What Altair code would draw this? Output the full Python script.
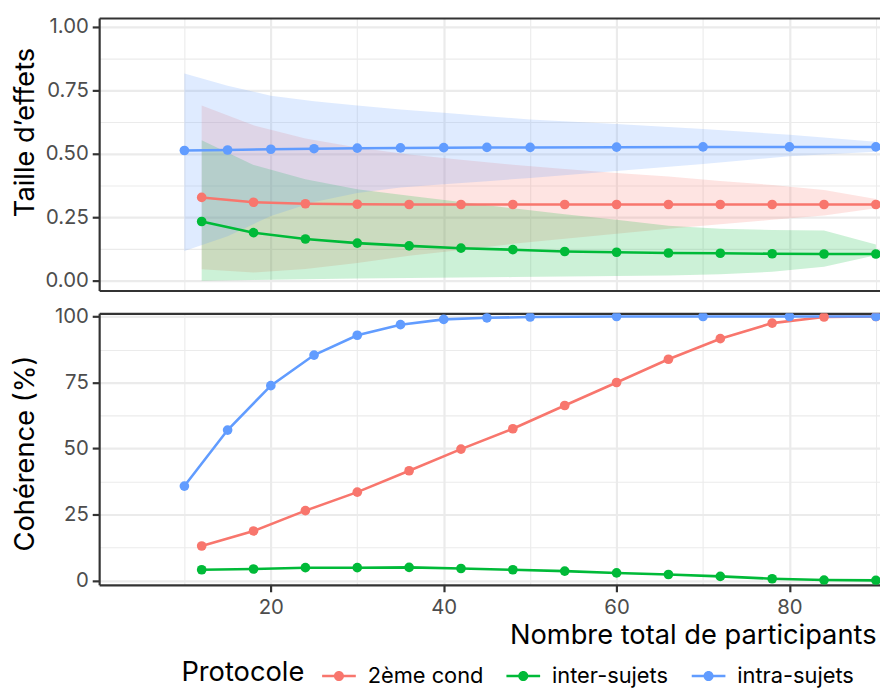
import altair as alt
import pandas as pd

PROTOCOLS = ["2ème cond", "inter-sujets", "intra-sujets"]
COLORS = ["#F8766D", "#00BA38", "#619CFF"]

N_INTRA = [10, 15, 20, 25, 30, 35, 40, 45, 50, 60, 70, 80, 90]
N_OTHER = [12, 18, 24, 30, 36, 42, 48, 54, 60, 66, 72, 78, 84, 90]

ES_COND2 = [0.328, 0.309, 0.303, 0.301, 0.300, 0.300, 0.300, 0.300, 0.300, 0.300, 0.300, 0.300, 0.300, 0.300]
ES_COND2_LO = [0.045, 0.032, 0.046, 0.070, 0.098, 0.121, 0.145, 0.165, 0.185, 0.205, 0.222, 0.240, 0.257, 0.285]
ES_COND2_HI = [0.690, 0.612, 0.560, 0.525, 0.497, 0.476, 0.457, 0.440, 0.424, 0.410, 0.393, 0.377, 0.357, 0.322]

ES_INTER = [0.233, 0.189, 0.164, 0.148, 0.137, 0.128, 0.122, 0.115, 0.112, 0.109, 0.108, 0.106, 0.105, 0.105]
ES_INTER_LO = [0.000, 0.003, 0.005, 0.008, 0.010, 0.012, 0.014, 0.016, 0.018, 0.020, 0.025, 0.035, 0.055, 0.100]
ES_INTER_HI = [0.553, 0.456, 0.400, 0.360, 0.335, 0.310, 0.285, 0.262, 0.240, 0.216, 0.205, 0.200, 0.198, 0.142]

ES_INTRA = [0.513, 0.515, 0.518, 0.520, 0.522, 0.523, 0.524, 0.525, 0.525, 0.526, 0.527, 0.527, 0.527]
ES_INTRA_LO = [0.117, 0.175, 0.255, 0.310, 0.345, 0.367, 0.380, 0.392, 0.405, 0.432, 0.460, 0.490, 0.508]
ES_INTRA_HI = [0.816, 0.768, 0.729, 0.707, 0.690, 0.675, 0.662, 0.648, 0.635, 0.617, 0.598, 0.575, 0.547]

COH_COND2 = [13.1, 18.8, 26.5, 33.5, 41.6, 49.8, 57.5, 66.3, 75.0, 83.8, 91.6, 97.5, 99.8, 100.0]
COH_INTER = [4.1, 4.4, 4.9, 4.9, 5.0, 4.6, 4.1, 3.6, 2.9, 2.3, 1.6, 0.7, 0.2, 0.1]
COH_INTRA = [35.8, 57.0, 73.8, 85.4, 92.9, 96.9, 98.9, 99.5, 99.8, 100.0, 100.0, 100.0, 100.0]

X_VALUES = [10, 20, 30, 40, 50, 60, 70, 80, 90]
Y_TOP_VALUES = [0, 0.125, 0.25, 0.375, 0.5, 0.625, 0.75, 0.875, 1.0]
Y_BOT_VALUES = [0, 12.5, 25, 37.5, 50, 62.5, 75, 87.5, 100]

rows = []
series = [
    (PROTOCOLS[0], N_OTHER, ES_COND2, ES_COND2_LO, ES_COND2_HI, COH_COND2),
    (PROTOCOLS[1], N_OTHER, ES_INTER, ES_INTER_LO, ES_INTER_HI, COH_INTER),
    (PROTOCOLS[2], N_INTRA, ES_INTRA, ES_INTRA_LO, ES_INTRA_HI, COH_INTRA),
]
for order, (name, ns, es, lo, hi, coh) in enumerate(series):
    for i, n in enumerate(ns):
        rows.append(dict(proto=name, order=order, n=n, es=es[i], lo=lo[i], hi=hi[i], coh=coh[i]))
df = pd.DataFrame(rows)


def cond(test, a, b):
    return {"condition": {"test": test, "value": a}, "value": b}


X_MAJOR = "datum.value % 20 === 0"
YT_MAJOR = "(datum.value * 4) % 1 === 0"
YB_MAJOR = "datum.value % 25 === 0"

W = 788
x_scale = alt.Scale(domain=[0.14, 0.14 + W / 8.723], nice=False, zero=False)
yt_scale = alt.Scale(domain=[-0.039, 1.035], nice=False, zero=False)
yb_scale = alt.Scale(domain=[-1.6, 101.2], nice=False, zero=False)
color_scale = alt.Scale(domain=PROTOCOLS, range=COLORS)

LEGEND_PATH = ("M-1,-0.07L1,-0.07L1,0.07L-1,0.07Z "
               "M-0.3,0A0.3,0.3 0 1,1 0.3,0A0.3,0.3 0 1,1 -0.3,0Z")

TICK_FS = 20.5
TITLE_FS = 27.5

x_axis_border = alt.Axis(orient="top", values=X_VALUES, labels=False, ticks=False,
                         grid=False, title=None, domain=True)
x_axis_top = alt.Axis(orient="bottom", values=X_VALUES, labels=False, ticks=False,
                      title=None, domain=True, grid=True,
                      gridWidth=cond(X_MAJOR, 2.2, 1.1))
x_axis_bot = alt.Axis(orient="bottom", values=X_VALUES, domain=True, grid=True,
                      gridWidth=cond(X_MAJOR, 2.2, 1.1),
                      labelExpr=f"{X_MAJOR} ? datum.label : ''",
                      tickOpacity=cond(X_MAJOR, 1, 0), tickSize=7, labelPadding=6,
                      title="Nombre total de participants", titleAlign="right",
                      titleX=784, titleY=59.7, titleBaseline="alphabetic")
y_axis_top = alt.Axis(values=Y_TOP_VALUES, domain=True, grid=True,
                      gridWidth=cond(YT_MAJOR, 2.2, 1.1),
                      labelExpr=f"{YT_MAJOR} ? format(datum.value, '.2f') : ''",
                      tickOpacity=cond(YT_MAJOR, 1, 0), tickSize=7, labelPadding=4,
                      title="Taille d’effets", titleX=-66, titleY=115,
                      titleBaseline="alphabetic")
y_axis_bot = alt.Axis(values=Y_BOT_VALUES, domain=True, grid=True,
                      gridWidth=cond(YB_MAJOR, 2.2, 1.1),
                      labelExpr=f"{YB_MAJOR} ? datum.label : ''",
                      tickOpacity=cond(YB_MAJOR, 1, 0), tickSize=7, labelPadding=4,
                      title="Cohérence (%)", titleX=-66, titleY=141,
                      titleBaseline="alphabetic")

legend = alt.Legend(orient="none", legendX=83, legendY=647, direction="horizontal",
                    title="Protocole", titleOrient="left", titleFont="Inter",
                    titleFontSize=TITLE_FS, titleFontWeight="normal", titleColor="#000000",
                    titlePadding=17, labelFont="Inter", labelFontSize=22,
                    labelColor="#000000", labelOffset=12, columnPadding=23,
                    symbolType=LEGEND_PATH, symbolSize=1156, symbolStrokeWidth=0,
                    symbolOpacity=1)

C = alt.Color("proto:N", scale=color_scale, legend=legend)

base = alt.Chart(df)

# top panel: effect sizes with ribbons
ribbon = base.mark_area(opacity=0.2, clip=True).encode(
    x=alt.X("n:Q", scale=x_scale, axis=x_axis_border),
    y=alt.Y("lo:Q", scale=yt_scale, axis=y_axis_top),
    y2="hi:Q",
    color=C,
    order=alt.Order("order:Q"),
)
line_top = base.mark_line(strokeWidth=2.6, clip=True).encode(
    x=alt.X("n:Q", scale=x_scale, axis=x_axis_top),
    y=alt.Y("es:Q", scale=yt_scale, axis=y_axis_top),
    color=C,
)
pts_top = base.mark_circle(size=95, opacity=1, clip=True).encode(
    x=alt.X("n:Q", scale=x_scale, axis=None),
    y=alt.Y("es:Q", scale=yt_scale, axis=y_axis_top),
    color=C,
    order=alt.Order("order:Q"),
)
top = alt.layer(ribbon, line_top, pts_top).resolve_axis(x="independent").properties(
    width=W, height=275)

# bottom panel: coherence
line_bot = base.mark_line(strokeWidth=2.6, clip=True).encode(
    x=alt.X("n:Q", scale=x_scale, axis=x_axis_bot),
    y=alt.Y("coh:Q", scale=yb_scale, axis=y_axis_bot),
    color=C,
)
pts_bot = base.mark_circle(size=95, opacity=1, clip=True).encode(
    x=alt.X("n:Q", scale=x_scale, axis=x_axis_border),
    y=alt.Y("coh:Q", scale=yb_scale, axis=y_axis_bot),
    color=C,
    order=alt.Order("order:Q"),
)
bottom = alt.layer(line_bot, pts_bot).resolve_axis(x="independent").properties(
    width=W, height=274)

chart = alt.vconcat(top, bottom, spacing=23, bounds="flush").properties(
    padding={"left": 3, "top": 5, "right": 0, "bottom": 0}
).configure_axis(
    labelFont="Inter", labelFontSize=TICK_FS, labelColor="#4D4D4D",
    titleFont="Inter", titleFontSize=TITLE_FS, titleFontWeight="normal",
    titleColor="#000000", tickColor="#333333", tickWidth=2.2,
    gridColor="#EBEBEB", domain=False, domainColor="#333333", domainWidth=2.2,
).configure_view(strokeWidth=0)

chart.save("out.html", embed_options={"renderer": "svg", "actions": False})
